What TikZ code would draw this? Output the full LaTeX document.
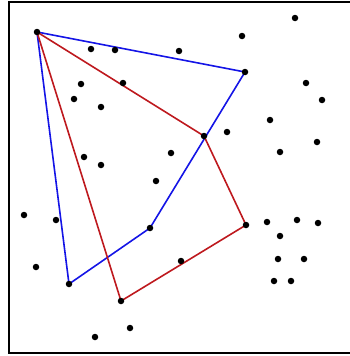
\documentclass[tikz,border=0pt]{standalone}
\usepackage{tikz}
\usetikzlibrary{backgrounds}
\definecolor{bleu}{RGB}{20,20,230}
\definecolor{rouge}{RGB}{190,25,30}
\tikzset{pt/.style={circle,fill=black,inner sep=0pt,minimum size=6.5pt},
  sommet/.style={circle,fill=black,inner sep=0pt,minimum size=6.5pt},
  bord/.style={line width=1.6pt}}
\begin{document}
\begin{tikzpicture}[x=1pt,y=-1pt]
\useasboundingbox (0,0) rectangle (350,356);
% Le cadre (le bord droit sort de l'image).
\draw[line width=2pt] (356,2) -- (9,2) -- (9,353) -- (356,353);
% Les sommets communs aux deux polygones.
\node[sommet] (A) at (37,32) {};
\node[sommet] (B1) at (245,72) {};
\node[sommet] (B2) at (150,228) {};
\node[sommet] (B3) at (69,284) {};
\node[sommet] (R1) at (204,136) {};
\node[sommet] (R2) at (246,225) {};
\node[sommet] (R3) at (121,301) {};
% Les autres points du nuage.
\foreach \x/\y [count=\i] in {91/49,115/50,81/84,123/83,74/99,101/107,84/157,101/165,
  171/153,179/51,295/18,242/36,306/83,322/100,270/120,227/132,317/142,280/152,
  156/181,24/215,56/220,36/267,130/328,95/337,267/222,297/220,318/223,280/236,
  278/259,304/259,181/261,274/281,291/281}
  \node[pt] (p\i) at (\x,\y) {};
\begin{scope}[on background layer]
\draw[bord,bleu] (A.center) -- (B1.center) -- (B2.center) -- (B3.center) -- cycle;
\draw[bord,rouge] (A.center) -- (R1.center) -- (R2.center) -- (R3.center) -- cycle;
\end{scope}
\end{tikzpicture}
\end{document}
